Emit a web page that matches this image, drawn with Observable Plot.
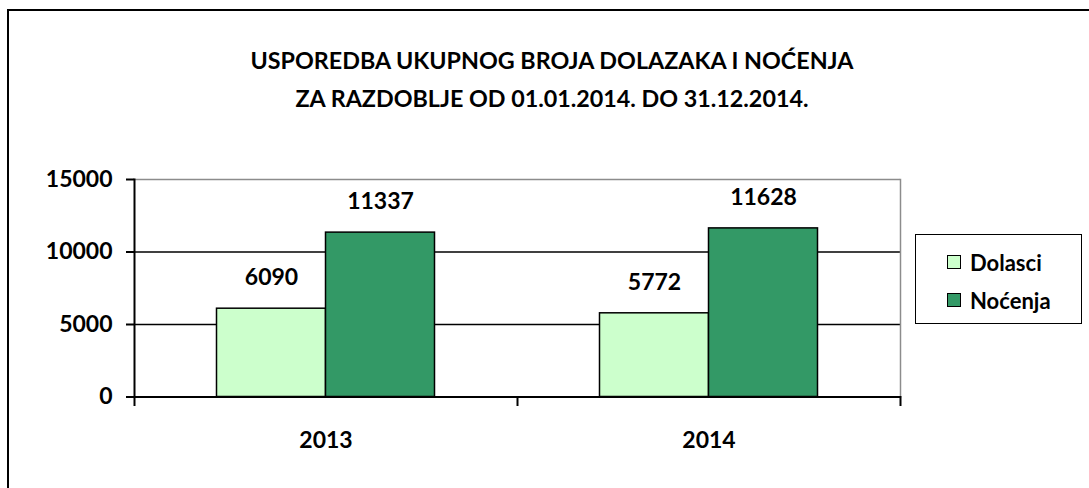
<!DOCTYPE html>
<html>
<head>
<meta charset="utf-8">
<script src="https://cdn.jsdelivr.net/npm/d3@7"></script>
<script src="https://cdn.jsdelivr.net/npm/@observablehq/plot@0.6"></script>
<style>
  html, body { margin: 0; padding: 0; background: #fff; }
  #wrap { position: relative; width: 1089px; height: 488px; overflow: hidden; font-family: Lato, "Open Sans", sans-serif; }
  #border { position: absolute; left: 7px; top: 9px; width: 1200px; height: 600px; border: 2px solid #000; pointer-events: none; }
  #title { margin-left: 15px; width: 1074px; height: 130px; box-sizing: border-box; padding-top: 41px;
           text-align: center; font-weight: bold; font-size: 23.3px; line-height: 38px; color: #000; }
  #legend { position: absolute; left: 915px; top: 234px; width: 165px; height: 88px; border: 1.5px solid #000; background: #fff;
            font-weight: bold; font-size: 22px; color: #000; }
  .item { position: absolute; left: 31px; height: 24px; display: flex; align-items: center; }
  .sw { width: 12px; height: 12px; border: 1.5px solid #000; margin-right: 9px; }
  svg { display: block; }
</style>
</head>
<body>
<div id="wrap">
  <div id="title"></div>
  <div id="chart"></div>
  <div id="legend"></div>
  <div id="border"></div>
</div>
<script>
const titleLines = ["USPOREDBA UKUPNOG BROJA DOLAZAKA I NOĆENJA", "ZA RAZDOBLJE OD 01.01.2014. DO 31.12.2014."];
const years = ["2013", "2014"];
const series = ["Dolasci", "Noćenja"];
const dolasci = [6090, 5772];
const nocenja = [11337, 11628];
const yTicks = [0, 5000, 10000, 15000];
const colors = ["#CCFFCC", "#339966"];

document.getElementById("title").innerHTML = titleLines.join("<br>");

const data = years.flatMap((yr, i) => [
  {year: yr, series: series[0], value: dolasci[i]},
  {year: yr, series: series[1], value: nocenja[i]}
]);

const chart = Plot.plot({
  width: 1089,
  height: 358,
  marginTop: 49,
  marginBottom: 91.5,
  marginLeft: 133.5,
  marginRight: 188,
  style: {fontFamily: "Lato, sans-serif", fontWeight: "bold", fontSize: "23px", color: "#000", background: "transparent", overflow: "visible"},
  fx: {domain: years, padding: 0, label: null},
  x: {domain: series, paddingInner: 0, paddingOuter: 0.742, axis: null},
  y: {domain: [0, 15000]},
  color: {domain: series, range: colors},
  marks: [
    Plot.ruleY([5000, 10000], {stroke: "#000", strokeWidth: 1.5}),
    Plot.ruleY([15000], {stroke: "#8c8c8c", strokeWidth: 1.5}),
    Plot.frame({anchor: "right", facetAnchor: "right", stroke: "#8c8c8c", strokeWidth: 1.5}),
    Plot.barY(data, {fx: "year", x: "series", y: "value", fill: "series", stroke: "#000", strokeWidth: 1.5}),
    Plot.ruleY([0], {stroke: "#000", strokeWidth: 2}),
    Plot.frame({anchor: "left", facetAnchor: "left", insetBottom: -8, stroke: "#000", strokeWidth: 2}),
    Plot.frame({anchor: "right", insetTop: 217.5, insetBottom: -8, stroke: "#000", strokeWidth: 2}),
    Plot.text(data, {fx: "year", x: "series", y: "value", text: d => String(d.value), dy: -31, fontWeight: "bold", fontSize: 23, fill: "#000"}),
    Plot.axisY({ticks: yTicks, tickSize: 8, tickPadding: 14, label: null, strokeWidth: 2, tickFormat: d => String(d)}),
    Plot.axisFx({anchor: "bottom", tickSize: 0, tickPadding: 35, label: null})
  ]
});
document.getElementById("chart").appendChild(chart);

const legend = document.getElementById("legend");
series.forEach((s, i) => {
  const it = document.createElement("div");
  it.className = "item";
  it.style.top = (15 + i * 38) + "px";
  it.innerHTML = `<span class="sw" style="background:${colors[i]}"></span><span>${s}</span>`;
  legend.appendChild(it);
});
</script>
</body>
</html>
